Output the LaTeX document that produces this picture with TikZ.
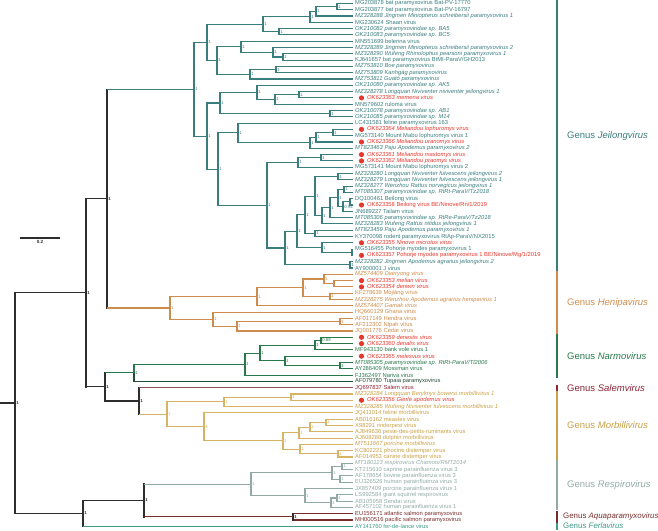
\documentclass[tikz,border=0pt]{standalone}
\usepackage{fontspec}
\setmainfont{Liberation Sans}
\usetikzlibrary{calc}
\definecolor{jei}{RGB}{58,125,125}
\definecolor{hen}{RGB}{205,140,75}
\definecolor{nar}{RGB}{40,120,75}
\definecolor{tup}{RGB}{35,75,55}
\definecolor{sal}{RGB}{150,75,90}
\definecolor{salt}{RGB}{140,35,55}
\definecolor{mor}{RGB}{215,180,100}
\definecolor{mort}{RGB}{200,160,70}
\definecolor{res}{RGB}{145,170,165}
\definecolor{aqu}{RGB}{120,45,45}
\definecolor{fer}{RGB}{60,155,135}
\definecolor{hit}{RGB}{230,55,45}
\definecolor{base}{RGB}{45,45,45}
% internal clade node: name, x, child1, child2, colour, support
\newcommand\mynd[6]{%
  \path let \p1=($(#3)!.5!(#4)$) in coordinate (#1) at (#2pt,\y1);
  \draw[br,#5] (#1) |- (#3) (#1) |- (#4);
  \node[sup,text=#5] (s#1) at (#1) {#6};}
% backbone node: name, x, child1, colour1, child2, colour2, support
\newcommand\mykn[7]{%
  \path let \p1=($(#3)!.5!(#5)$) in coordinate (#1) at (#2pt,\y1);
  \draw[kbr] (#1|-#3) -- (#1|-#5);
  \draw[br,#4] (#1|-#3) -- (#3);
  \draw[br,#6] (#1|-#5) -- (#5);
  \node[ksup] (s#1) at (#1) {#7};}
\newcommand\mylf[3]{\node[leaf,text=#2] (t#1) at ($(L#1)+(2,0)$) {#3};}
\newcommand\mylfr[2]{\fill[hit] ($(L#1)+(8.5,0)$) circle (2.6);
  \node[leaf,text=hit] (t#1) at ($(L#1)+(14,0)$) {#2};}
% genus bar: name, first leaf, last leaf, colour, text, font size
\newcommand\mygen[6]{%
  \draw[gbar,#4] ($(L#2)+(204,-3)$) coordinate (#1a) -- ($(L#3)+(204,3)$) coordinate (#1b);
  \node[glab,text=#4,font=\fontsize{#6}{#6}\selectfont] (#1) at ($(#1a)!.5!(#1b)+(10,0)$) {#5};}
\begin{document}
\begin{tikzpicture}[x=1pt,y=-1pt,
  br/.style={line width=1.1pt},
  kbr/.style={line width=1.4pt,draw=base,line cap=rect},
  leaf/.style={anchor=west,inner sep=0pt,font=\fontsize{5.8}{6}\selectfont},
  sup/.style={anchor=west,inner sep=0.5pt,xshift=0.6pt,font=\fontsize{4.3}{5}\selectfont},
  ksup/.style={sup,text=base,font=\bfseries\fontsize{4.3}{5}\selectfont},
  glab/.style={anchor=west,inner sep=0pt},
  gbar/.style={line width=1.6pt}]
\useasboundingbox (0,0) rectangle (658,530);
\foreach \i in {1,...,84}{\coordinate (L\i) at (353,{3.4+(\i-1)*6.3});}
% ---------- Jeilongvirus
\mynd{j12}{337}{L1}{L2}{jei}{1}
\mynd{j13}{316}{j12}{L3}{jei}{1}
\mynd{j14}{310}{j13}{L4}{jei}{1}
\mynd{j56}{279}{L5}{L6}{jei}{1}
\mynd{j16}{263}{j14}{j56}{jei}{1}
\mynd{j910}{283}{L9}{L10}{jei}{1}
\mynd{j810}{273}{L8}{j910}{jei}{1}
\mynd{j710}{241}{L7}{j810}{jei}{1}
\mynd{j1112}{276}{L11}{L12}{jei}{1}
\mynd{j1113}{250}{j1112}{L13}{jei}{1}
\mynd{j713}{217}{j710}{j1113}{jei}{1}
\mynd{j113}{207}{j16}{j713}{jei}{1}
\mynd{j1516}{299}{L15}{L16}{jei}{1}
\mynd{j1517}{275}{j1516}{L17}{jei}{1}
\mynd{j1417}{257}{L14}{j1517}{jei}{1}
\mynd{j1819}{330}{L18}{L19}{jei}{1}
\mynd{j1419}{220}{j1417}{j1819}{jei}{1}
\mynd{j2122}{333}{L21}{L22}{jei}{1}
\mynd{j2123}{316}{j2122}{L23}{jei}{1}
\mynd{j2124}{310}{j2123}{L24}{jei}{1}
\mynd{j2024}{238}{L20}{j2124}{jei}{1}
\mynd{j2526}{321}{L25}{L26}{jei}{1}
\mynd{j2527}{298}{j2526}{L27}{jei}{1}
\mynd{j2829}{338}{L28}{L29}{jei}{1}
\mynd{j3031}{344}{L30}{L31}{jei}{1}
\mynd{j3233}{350}{L32}{L33}{jei}{}
\mynd{j3234}{343}{j3233}{L34}{jei}{0.94}
\mynd{j3034}{338}{j3031}{j3234}{jei}{1}
\mynd{j3035}{330}{j3034}{L35}{jei}{1}
\mynd{j3036}{322}{j3035}{L36}{jei}{1}
\mynd{j2836}{315}{j2829}{j3036}{jei}{1}
\mynd{j3738}{315}{L37}{L38}{jei}{1}
\mynd{j2838}{305}{j2836}{j3738}{jei}{1}
\mynd{j4041}{352}{L40}{L41}{jei}{}
\mynd{j3941}{322}{L39}{j4041}{jei}{1}
\mynd{j2841}{297}{j2838}{j3941}{jei}{1}
\mynd{j4243}{350}{L42}{L43}{jei}{1}
\mynd{j2843}{285}{j2841}{j4243}{jei}{1}
\mynd{j2543}{267}{j2527}{j2843}{jei}{1}
\mynd{j2043}{218}{j2024}{j2543}{jei}{1}
\mynd{j1443}{207}{j1419}{j2043}{jei}{1}
\mynd{jroot}{194}{j113}{j1443}{jei}{1}
% ---------- Henipavirus
\mynd{h4546}{334}{L45}{L46}{hen}{}
\mynd{h4446}{324}{L44}{h4546}{hen}{1}
\mynd{h4748}{330}{L47}{L48}{hen}{1}
\mynd{h4448}{303}{h4446}{h4748}{hen}{1}
\mynd{h4449}{257}{h4448}{L49}{hen}{1}
\mynd{h5152}{340}{L51}{L52}{hen}{1}
\mynd{h5153}{237}{h5152}{L53}{hen}{1}
\mynd{h5053}{213}{L50}{h5153}{hen}{1}
\mynd{hroot}{170}{h4449}{h5053}{hen}{1}
% ---------- Narmovirus
\mynd{n5455}{321}{L54}{L55}{nar}{0.89}
\mynd{n5456}{315}{n5455}{L56}{nar}{1}
\mynd{n5859}{340}{L58}{L59}{nar}{1}
\mynd{n5759}{285}{L57}{n5859}{nar}{1}
\mynd{n5459}{260}{n5456}{n5759}{nar}{1}
\mynd{nroot}{245}{n5459}{L60}{nar}{1}
\path let \p1=($(nroot)!.5!(L61)$) in coordinate (b61) at (134pt,\y1);
\draw[br,nar] (b61) |- (nroot);
\draw[br,tup] (b61) |- (L61);
\node[sup,text=nar] (sb61) at (b61) {1};
% ---------- Morbillivirus
\mynd{m6364}{291}{L63}{L64}{mor}{1}
\mynd{m6365}{224}{m6364}{L65}{mor}{1}
\mynd{m6768}{326}{L67}{L68}{mor}{1}
\mynd{m6769}{310}{m6768}{L69}{mor}{1}
\mynd{m6770}{299}{m6769}{L70}{mor}{1}
\mynd{m7273}{338}{L72}{L73}{mor}{1}
\mynd{m7173}{300}{L71}{m7273}{mor}{1}
\mynd{m6773}{283}{m6770}{m7173}{mor}{1}
\mynd{m6673}{204}{L66}{m6773}{mor}{1}
\mynd{mroot}{167}{m6365}{m6673}{mor}{1}
% ---------- Respirovirus, Aquaparamyxovirus
\mynd{r7475}{342}{L74}{L75}{res}{1}
\mynd{r7677}{340}{L76}{L77}{res}{1}
\mynd{r7477}{332}{r7475}{r7677}{res}{1}
\mynd{r7980}{337}{L79}{L80}{res}{1}
\mynd{r7981}{331}{r7980}{L81}{res}{1}
\mynd{r7881}{305}{L78}{r7981}{res}{1}
\mynd{rroot}{251}{r7477}{r7881}{res}{1}
\path let \p1=($(L82)!.5!(L83)$) in coordinate (aroot) at (293pt,\y1);
\draw[br,aqu] (aroot) |- (L82) (aroot) |- (L83);
\draw[kbr,line width=1.1pt] (aroot|-L82) -- (aroot|-L83);
\node[ksup] (saroot) at (aroot) {1};
% ---------- backbone
\mykn{b62}{139}{L62}{sal}{mroot}{mor}{1}
\mykn{b54}{105}{b61}{nar}{b62}{base}{1}
\mykn{b1}{107}{jroot}{jei}{hroot}{hen}{1}
\mykn{b86}{86}{b1}{base}{b54}{base}{1}
\mykn{b144}{144}{rroot}{res}{aroot}{aqu}{1}
\mykn{b83}{83}{b144}{base}{L84}{fer}{1}
\mykn{root}{15}{b86}{base}{b83}{base}{1}
\draw[kbr] (0,0 |- root) -- (root);
% ---------- scale bar
\coordinate (sbA) at (20,238);
\coordinate (sbB) at (60,238);
\draw[kbr,line width=1.2pt,line cap=butt] (sbA) -- (sbB) node[midway,below=1.5pt,inner sep=0pt,text=base,font=\bfseries\fontsize{4.6}{5}\selectfont] (sbl) {0.2};
% ---------- leaf labels
\mylf{1}{jei}{MG203878 bat paramyxovirus Bat-PV-17770}
\mylf{2}{jei}{MG203877 bat paramyxovirus Bat-PV-16797}
\mylf{3}{jei}{\itshape MZ328288 Jingmen Miniopterus schreibersii paramyxovirus 1}
\mylf{4}{jei}{MG230624 Shaan virus}
\mylf{5}{jei}{\itshape OK210082 paramyxoviridae sp. BA5}
\mylf{6}{jei}{\itshape OK210083 paramyxoviridae sp. BC5}
\mylf{7}{jei}{MN551699 belerina virus}
\mylf{8}{jei}{\itshape MZ328289 Jingmen Miniopterus schreibersii paramyxovirus 2}
\mylf{9}{jei}{\itshape MZ328290 Wufeng Rhinolophus pearsoni paramyxovirus 1}
\mylf{10}{jei}{KJ641657 bat paramyxovirus BtMI-ParaV/GH2013}
\mylf{11}{jei}{\itshape MZ753810 Boe paramyxovirus}
\mylf{12}{jei}{\itshape MZ753809 Kanhgág paramyxovirus}
\mylf{13}{jei}{\itshape MZ753811 Guató paramyxovirus}
\mylf{14}{jei}{\itshape OK210080 paramyxoviridae sp. AK5}
\mylf{15}{jei}{\itshape MZ328278 Longquan Niviventer niviventer jeilongvirus 1}
\mylfr{16}{\itshape OK623363 memena virus}
\mylf{17}{jei}{MN579602 ruloma virus}
\mylf{18}{jei}{\itshape OK210078 paramyxoviridae sp. AB1}
\mylf{19}{jei}{\itshape OK210085 paramyxoviridae sp. M14}
\mylf{20}{jei}{LC431581 feline paramyxovirus 163}
\mylfr{21}{\itshape OK623364 Meliandou lophuromys virus}
\mylf{22}{jei}{MG573140 Mount Mabu lophuromys virus 1}
\mylfr{23}{\itshape OK623366 Meliandou uranomys virus}
\mylf{24}{jei}{\itshape MT823463 Paju Apodemus paramyxovirus 2}
\mylfr{25}{\itshape OK623361 Meliandou mastomys virus}
\mylfr{26}{\itshape OK623362 Meliandou praomys virus}
\mylf{27}{jei}{MG573141 Mount Mabu lophuromys virus 2}
\mylf{28}{jei}{\itshape MZ328280 Longquan Niviventer fulvescens jeilongvirus 2}
\mylf{29}{jei}{\itshape MZ328279 Longquan Niviventer fulvescens jeilongvirus 1}
\mylf{30}{jei}{\itshape MZ328277 Wenzhou Rattus norvegicus jeilongvirus 1}
\mylf{31}{jei}{\itshape MT085307 paramyxoviridae sp. RtRt-ParaV/Tz2018}
\mylf{32}{jei}{DQ100461 Beilong virus}
\mylfr{33}{OK623358 Beilong virus BE/Ninove/Rn/1/2019}
\mylf{34}{jei}{JN689227 Tailam virus}
\mylf{35}{jei}{\itshape MT085306 paramyxoviridae sp. RtRe-ParaV/Tz2018}
\mylf{36}{jei}{\itshape MZ328283 Wufeng Rattus nitidus jeilongvirus 1}
\mylf{37}{jei}{\itshape MT823459 Paju Apodemus paramyxovirus 1}
\mylf{38}{jei}{KY370098 rodent paramyxovirus RtAp-ParaV/NX2015}
\mylfr{39}{\itshape OK623355 Ninove microtus virus}
\mylf{40}{jei}{MG516455 Pohorje myodes paramyxovirus 1}
\mylfr{41}{OK623357 Pohorje myodes paramyxovirus 1 BE/Ninove/Mg/1/2019}
\mylf{42}{jei}{\itshape MZ328282 Jingmen Apodemus agrarius jeilongvirus 2}
\mylf{43}{jei}{AY900001 J virus}
\mylf{44}{hen}{\itshape MZ574409 Daeryong virus}
\mylfr{45}{\itshape OK623353 melian virus}
\mylfr{46}{\itshape OK623354 denwin virus}
\mylf{47}{hen}{KF278639 Mòjiāng virus}
\mylf{48}{hen}{\itshape MZ328275 Wenzhou Apodemus agrarius henipavirus 1}
\mylf{49}{hen}{\itshape MZ574407 Gamak virus}
\mylf{50}{hen}{HQ660129 Ghana virus}
\mylf{51}{hen}{AF017149 Hendra virus}
\mylf{52}{hen}{AF212302 Nipah virus}
\mylf{53}{hen}{JQ001776 Cedar virus}
\mylfr{54}{\itshape OK623359 denestis virus}
\mylfr{55}{\itshape OK623360 denalis virus}
\mylf{56}{nar}{MF943130 bank vole virus 1}
\mylfr{57}{\itshape OK623365 melesvus virus}
\mylf{58}{nar}{\itshape MT085305 paramyxoviridae sp. RtRt-ParaV/Tl2006}
\mylf{59}{nar}{AY286409 Mossman virus}
\mylf{60}{nar}{FJ362497 Nariva virus}
\mylf{61}{tup}{AF079780 Tupaia paramyxovirus}
\mylf{62}{salt}{JQ697837 Salem virus}
\mylf{63}{mort}{\itshape MZ328284 Longquan Berylmys bowersi morbillivirus 1}
\mylfr{64}{\itshape OK623356 Gierle apodemus virus}
\mylf{65}{mort}{\itshape MZ328285 Wufeng Niviventer fulvescens morbillivirus 1}
\mylf{66}{mort}{JQ411014 feline morbillivirus}
\mylf{67}{mort}{AB016162 measles virus}
\mylf{68}{mort}{X98291 rinderpest virus}
\mylf{69}{mort}{AJ849636 peste-des-petits-ruminants virus}
\mylf{70}{mort}{AJ608288 dolphin morbillivirus}
\mylf{71}{mort}{\itshape MT511667 porcine morbillivirus}
\mylf{72}{mort}{KC802221 phocine distemper virus}
\mylf{73}{mort}{AF014953 canine distemper virus}
\mylf{74}{res}{\itshape MT180123 respirovirus Chamois/RMT2014}
\mylf{75}{res}{KT215610 caprine parainfluenza virus 3}
\mylf{76}{res}{AF178654 bovine parainfluenza virus 3}
\mylf{77}{res}{EU326526 human parainfluenza virus 3}
\mylf{78}{res}{JX857409 porcine parainfluenza virus 1}
\mylf{79}{res}{LS992584 giant squirrel respirovirus}
\mylf{80}{res}{AB105958 Sendai virus}
\mylf{81}{res}{AF457102 human parainfluenza virus 1}
\mylf{82}{aqu}{EU156171 atlantic salmon paramyxovirus}
\mylf{83}{aqu}{MH000516 pacific salmon paramyxovirus}
\mylf{84}{fer}{AY141760 fer-de-lance virus}
% ---------- genus bars
\mygen{gJ}{1}{43}{jei}{Genus \textit{Jeilongvirus}}{9.5}
\mygen{gH}{44}{53}{hen}{Genus \textit{Henipavirus}}{9.5}
\mygen{gN}{54}{60}{nar}{Genus \textit{Narmovirus}}{9.5}
\mygen{gS}{62}{62}{salt}{Genus \textit{Salemvirus}}{9.5}
\mygen{gM}{63}{73}{mort}{Genus \textit{Morbillivirus}}{9.5}
\mygen{gR}{74}{81}{res}{Genus \textit{Respirovirus}}{9.5}
\draw[gbar,aqu] ($(L82)+(204,-3)$) coordinate (gAa) -- ($(L83)+(204,3)$) coordinate (gAb);
\node[glab,text=aqu,font=\fontsize{7.9}{7.9}\selectfont] (gA) at ($(gAa)!.5!(gAb)+(6,0)$) {Genus \textit{Aquaparamyxovirus}};
\draw[gbar,fer] ($(L84)+(204,-3)$) coordinate (gFa) -- (557,530) coordinate (gFb);
\node[glab,text=fer,font=\fontsize{7.9}{7.9}\selectfont] (gF) at ($(gFa)+(6,2.2)$) {Genus \textit{Ferlavirus}};
\end{tikzpicture}
\end{document}
